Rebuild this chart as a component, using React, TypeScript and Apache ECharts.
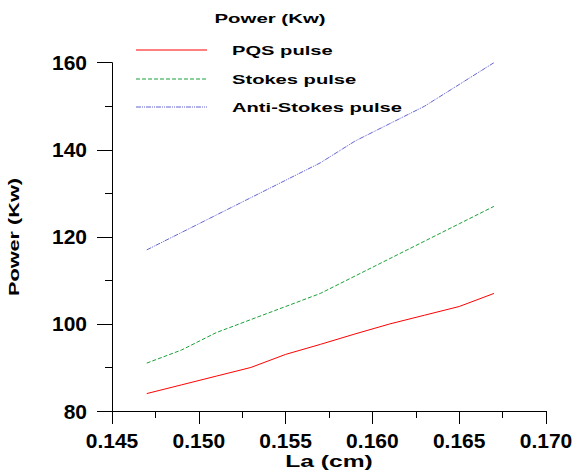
import React, { useEffect, useRef } from "react";
import * as echarts from "echarts";

const laValues = [0.147, 0.149, 0.151, 0.153, 0.155, 0.157, 0.159, 0.161, 0.163, 0.165, 0.167];
const pqsPulse = [84, 86, 88, 90, 93, 95.3, 97.7, 100, 102, 104, 107];
const stokesPulse = [91, 94, 98, 101, 104, 107, 111, 115, 119, 123, 127];
const antiStokesPulse = [117, 121, 125, 129, 133, 137, 142, 146, 150, 155, 160];

const seriesNames = ["PQS pulse", "Stokes pulse", "Anti-Stokes pulse"];
const seriesColors = ["#ff0000", "#1a9f3a", "#6464d6"];
const legendTitle = "Power (Kw)";
const xAxisName = "La (cm)";
const yAxisName = "Power (Kw)";

const FONT = '"Liberation Sans", Arial, Helvetica, sans-serif';

export default function App() {
  const ref = useRef<HTMLDivElement | null>(null);

  useEffect(() => {
    document.body.style.margin = "0";
    if (!ref.current) return;
    const chart = echarts.init(ref.current, null, { renderer: "svg" });
    const allSeries = [pqsPulse, stokesPulse, antiStokesPulse];
    const dashes: any[] = ["solid", [4, 2], [5, 1, 1, 1, 1, 1]];
    const legendY = [50, 79, 107];

    const legendGraphics: any[] = [];
    seriesNames.forEach((name, i) => {
      legendGraphics.push({
        type: "line",
        shape: { x1: 136, y1: legendY[i], x2: 207, y2: legendY[i] },
        style: { stroke: seriesColors[i], lineWidth: 1, lineDash: dashes[i] === "solid" ? null : dashes[i] },
        silent: true,
      });
      legendGraphics.push({
        type: "text",
        x: 232,
        y: legendY[i] + 1,
        scaleX: 1.55,
        style: {
          text: name,
          fill: "#000",
          font: `bold 13px ${FONT}`,
          align: "left",
          verticalAlign: "middle",
        },
      });
    });

    chart.setOption({
      animation: false,
      backgroundColor: "#ffffff",
      grid: { left: 112, right: 30, top: 62.7, bottom: 61, outerBoundsMode: "none" },
      xAxis: {
        type: "value",
        min: 0.145,
        max: 0.17,
        interval: 0.005,
        axisLine: { show: true, lineStyle: { color: "#000", width: 1 } },
        axisTick: { show: true, inside: false, length: 13, lineStyle: { color: "#000" } },
        minorTick: { show: true, splitNumber: 2, length: 7, lineStyle: { color: "#000" } },
        splitLine: { show: false },
        axisLabel: {
          margin: 19,
          color: "#000",
          fontWeight: "bold",
          fontSize: 21,
          fontFamily: FONT,
          formatter: (v: number) => v.toFixed(3),
        },
      },
      yAxis: {
        type: "value",
        min: 80,
        max: 160,
        interval: 20,
        axisLine: { show: true, lineStyle: { color: "#000", width: 1 } },
        axisTick: { show: true, inside: false, length: 15, lineStyle: { color: "#000" } },
        minorTick: { show: true, splitNumber: 2, length: 7, lineStyle: { color: "#000" } },
        splitLine: { show: false },
        axisLabel: {
          margin: 25,
          color: "#000",
          fontWeight: "bold",
          fontSize: 21,
          fontFamily: FONT,
        },
      },
      series: allSeries.map((vals, i) => ({
        name: seriesNames[i],
        type: "line",
        data: laValues.map((x, j) => [x, vals[j]]),
        showSymbol: false,
        symbol: "none",
        lineStyle: {
          color: seriesColors[i],
          width: 1,
          type: dashes[i],
        },
        itemStyle: { color: seriesColors[i] },
      })),
      graphic: [
        {
          type: "text",
          x: 270,
          y: 19,
          scaleX: 1.57,
          style: {
            text: legendTitle,
            fill: "#000",
            font: `bold 13px ${FONT}`,
            align: "center",
            verticalAlign: "middle",
          },
        },
        ...legendGraphics,
        {
          type: "text",
          x: 329,
          y: 461,
          scaleX: 1.45,
          style: {
            text: xAxisName,
            fill: "#000",
            font: `bold 17px ${FONT}`,
            align: "center",
            verticalAlign: "middle",
          },
        },
        {
          type: "text",
          x: 14,
          y: 237,
          rotation: Math.PI / 2,
          scaleX: 1.55,
          style: {
            text: yAxisName,
            fill: "#000",
            font: `bold 14px ${FONT}`,
            align: "center",
            verticalAlign: "middle",
          },
        },
      ],
    });

    return () => chart.dispose();
  }, []);

  return <div ref={ref} style={{ width: 576, height: 472 }} />;
}
